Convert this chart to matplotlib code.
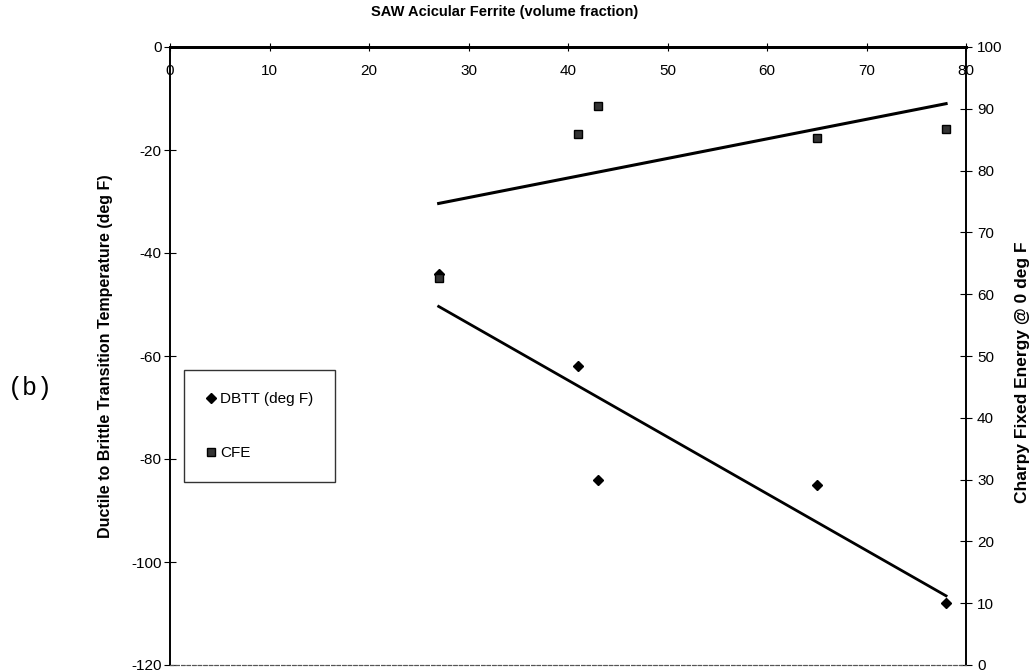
import numpy as np
import matplotlib
matplotlib.use("Agg")
import matplotlib.pyplot as plt
from matplotlib.lines import Line2D

# Acicular ferrite volume fraction for each SAW weld
ferrite = [27, 41, 43, 65, 78]
# Ductile to brittle transition temperature (deg F)
dbtt = [-44, -62, -84, -85, -108]
# Charpy fixed energy at 0 deg F
cfe = [62.7, 86, 90.5, 85.2, 86.7]

x_ticks = [0, 10, 20, 30, 40, 50, 60, 70, 80]
left_ticks = [0, -20, -40, -60, -80, -100, -120]
right_ticks = [0, 10, 20, 30, 40, 50, 60, 70, 80, 90, 100]

plt.rcParams['font.family'] = ['Liberation Sans', 'DejaVu Sans']
plt.rcParams['axes.unicode_minus'] = False

W, H = 1032, 672
fig = plt.figure(figsize=(W / 100, H / 100), dpi=100)
ax = fig.add_axes([170 / W, 1 - 665 / H, (966 - 170) / W, (665 - 47) / H])
ax2 = ax.twinx()

ax.set_xlim(0, 80)
ax.set_ylim(-120, 0)
ax2.set_ylim(0, 100)

# scatter points
ax.plot(ferrite, dbtt, linestyle='none', marker='D', markersize=5.5,
        color='black', zorder=5)
ax2.plot(ferrite, cfe, linestyle='none', marker='s', markersize=6,
         markerfacecolor='#333333', markeredgecolor='black', zorder=5)

# least-squares trend lines
fx = np.array([min(ferrite), max(ferrite)])
p1 = np.polyfit(ferrite, dbtt, 1)
p2 = np.polyfit(ferrite, cfe, 1)
ax.plot(fx, np.polyval(p1, fx), color='black', lw=2.0)
ax2.plot(fx, np.polyval(p2, fx), color='black', lw=2.2)

# x axis sits along the top (y = 0) with labels underneath the line
ax.xaxis.set_ticks_position('top')
ax.set_xticks(x_ticks)
ax.tick_params(axis='x', direction='inout', length=6, width=0.8,
               labeltop=True, labelbottom=False, pad=-25, labelsize=11)
ax.set_yticks(left_ticks)
ax.tick_params(axis='y', direction='inout', length=8, width=0.8, labelsize=11, pad=2)
ax2.set_yticks(right_ticks)
ax2.tick_params(axis='y', direction='inout', length=8, width=0.8, labelsize=11, pad=4)

for a in (ax, ax2):
    a.spines['top'].set_linewidth(2.0)
    a.spines['left'].set_linewidth(1.2)
    a.spines['right'].set_linewidth(1.2)
    a.spines['bottom'].set_linewidth(0.8)
    a.spines['bottom'].set_linestyle((0, (3, 2)))
    a.spines['bottom'].set_color('#555555')

# chart title centred over the whole chart area
fig.text(505 / W, 1 - 12 / H, 'SAW Acicular Ferrite (volume fraction)',
         fontsize=10.5, fontweight='bold', ha='center', va='center')

fig.text(106 / W, 1 - 356 / H, 'Ductile to Brittle Transition Temperature (deg F)',
         fontsize=11.5, fontweight='bold', rotation=90, ha='center', va='center')
fig.text(1022 / W, 1 - 372 / H, 'Charpy Fixed Energy @ 0 deg F',
         fontsize=12.5, fontweight='bold', rotation=90, ha='center', va='center')

fig.text(30 / W, 1 - 388 / H, '(b)', family='Liberation Mono', fontsize=18,
         ha='center', va='center')

handles = [
    Line2D([], [], linestyle='none', marker='D', markersize=5, color='black'),
    Line2D([], [], linestyle='none', marker='s', markersize=5.5,
           markerfacecolor='#333333', markeredgecolor='black'),
]
leg = ax.legend(handles, ['DBTT (deg F)', 'CFE'], loc='upper left',
                bbox_to_anchor=((184 - 170) / 796, 1 - (370 - 47) / 618),
                frameon=True, fancybox=False, edgecolor='black', fontsize=11,
                handlelength=0.6, handletextpad=0.3, labelspacing=2.6,
                borderpad=1.45, borderaxespad=0)
leg.get_frame().set_linewidth(1.0)

fig.savefig('out.png', dpi=100, facecolor='white')
